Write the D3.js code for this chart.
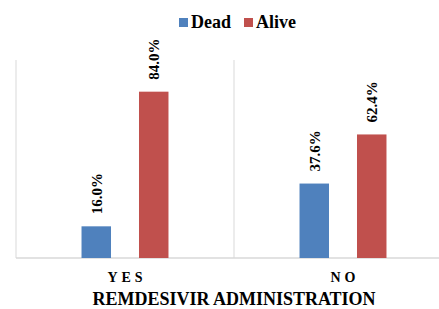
<!DOCTYPE html>
<html lang="en">
<head>
  <meta charset="utf-8">
  <title>Remdesivir administration</title>
  <script src="https://d3js.org/d3.v7.min.js"></script>
  <style>
    body { margin: 0; background: #fff; }
  </style>
</head>
<body>
  <div id="chart"></div>
  <script>
    "use strict"

    var categorias = ["YES", "NO"];
    var series = ["Dead", "Alive"];
    var dead = [16.0, 37.6];
    var alive = [84.0, 62.4];
    var cores = ["#4f81bd", "#c0504d"];

    var fonte = '"Liberation Serif", "Times New Roman", serif';

    var larguraSVG = 439, alturaSVG = 309;
    var margin = {left: 16, top: 60, bottom: 51};
    var larguraCat = 218;
    var alturaVis = alturaSVG - margin.top - margin.bottom;

    var dados = categorias.map((c, i) => ({cat: c, valores: [dead[i], alive[i]]}));

    var svg = d3.select('#chart').append('svg')
      .attr('width', larguraSVG)
      .attr('height', alturaSVG)
      .style('font-family', fonte)
      .style('font-weight', 'bold');

    var grafico = svg.append('g')
      .attr('transform', 'translate(' + margin.left + ',' + margin.top + ')');

    var x0 = d3.scaleBand()
      .domain(categorias)
      .range([0, larguraCat * categorias.length]);

    var x1 = d3.scaleBand()
      .domain(series)
      .range([0, x0.bandwidth()])
      .paddingInner(0.487)
      .paddingOuter(1.14);

    var y = d3.scaleLinear()
      .domain([0, 100])
      .range([alturaVis, 0]);

    var cor = d3.scaleOrdinal().domain(series).range(cores);

    // linhas verticais separando as categorias
    grafico.selectAll('.sep')
      .data(d3.range(categorias.length + 1))
      .enter().append('line')
        .attr('x1', i => i * x0.step())
        .attr('x2', i => i * x0.step())
        .attr('y1', y(100))
        .attr('y2', y(0))
        .attr('stroke', '#d9d9d9')
        .attr('stroke-width', 1);

    grafico.append('line')
      .attr('x1', 0).attr('x2', x0.step() * categorias.length)
      .attr('y1', y(0)).attr('y2', y(0))
      .attr('stroke', '#d9d9d9')
      .attr('stroke-width', 1.5);

    var grupos = grafico.selectAll('.grupo')
      .data(dados)
      .enter().append('g')
        .attr('transform', d => 'translate(' + x0(d.cat) + ',0)');

    var barras = grupos.selectAll('.barra')
      .data(d => d.valores.map((v, j) => ({serie: series[j], valor: v})))
      .enter();

    barras.append('rect')
      .attr('x', d => x1(d.serie))
      .attr('y', d => y(d.valor))
      .attr('width', x1.bandwidth())
      .attr('height', d => y(0) - y(d.valor))
      .attr('fill', d => cor(d.serie));

    barras.append('text')
      .attr('transform', d => 'translate(' + (x1(d.serie) + x1.bandwidth() / 2) + ',' + (y(d.valor) - 12) + ') rotate(-90)')
      .attr('dy', '0.35em')
      .style('font-family', fonte)
      .style('font-size', '15px')
      .text(d => d.valor.toFixed(1) + '%');

    // rotulos das categorias
    grafico.selectAll('.cat')
      .data(categorias)
      .enter().append('text')
        .attr('x', d => x0(d) + x0.bandwidth() / 2 + 2)
        .attr('y', y(0) + 24)
        .attr('text-anchor', 'middle')
        .style('font-family', fonte)
        .style('font-size', '14px')
        .style('letter-spacing', '4px')
        .text(d => d);

    svg.append('text')
      .attr('x', 234)
      .attr('y', 305)
      .attr('text-anchor', 'middle')
      .style('font-family', fonte)
      .style('font-size', '18px')
      .text('REMDESIVIR ADMINISTRATION');

    // legenda
    var legX = [179, 244];
    var legenda = svg.selectAll('.leg')
      .data(series)
      .enter().append('g')
        .attr('transform', (d, i) => 'translate(' + legX[i] + ',18)');

    legenda.append('rect')
      .attr('width', 9).attr('height', 9)
      .attr('fill', d => cor(d));

    legenda.append('text')
      .attr('x', 12)
      .attr('y', 10)
      .style('font-family', fonte)
      .style('font-size', '18px')
      .text(d => d);
  </script>
</body>
</html>
